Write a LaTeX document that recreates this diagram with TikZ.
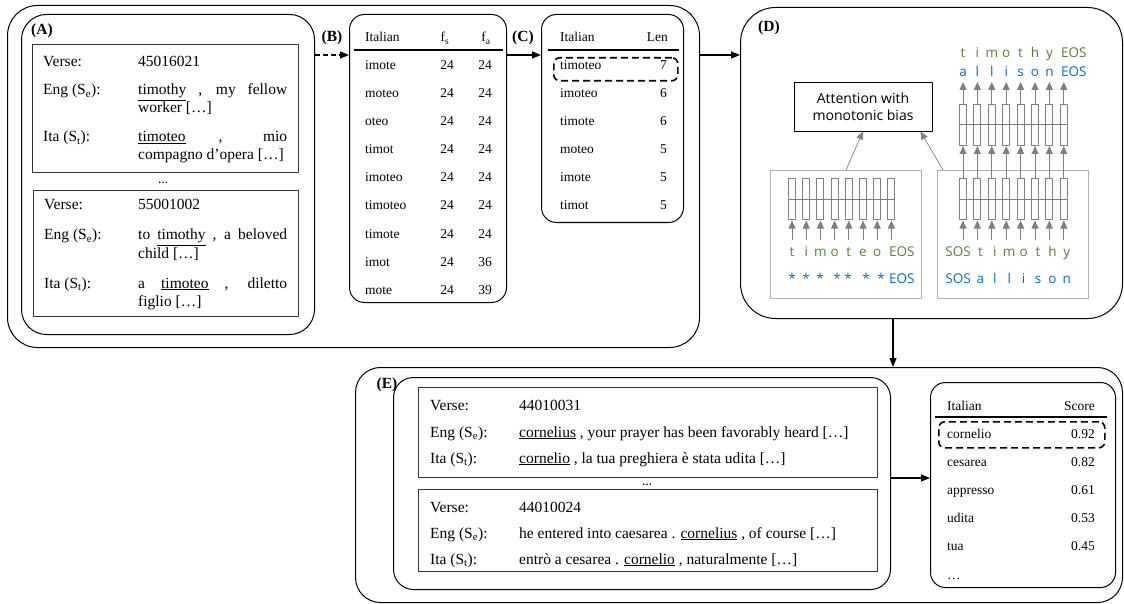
\documentclass[tikz,border=0pt]{standalone}
\usepackage{fontspec}
\setmainfont{Liberation Serif}
\newfontfamily\diagfont{Open Sans}
\usetikzlibrary{positioning,arrows.meta,calc}

\definecolor{encgreen}{HTML}{548235}
\definecolor{encblue}{HTML}{0070C0}
\definecolor{cellgray}{HTML}{7F7F7F}
\definecolor{boxgray}{HTML}{AFAFAF}

\begin{document}
\begin{tikzpicture}[x=1pt, y=-1pt, font=\fontsize{15.5}{18}\selectfont, line join=round]
\tikzstyle{panel}=[draw, line width=1pt, anchor=north west, inner sep=0pt]
\tikzstyle{versebox}=[draw=black!80, line width=0.9pt, anchor=north west, inner sep=0pt]
\tikzstyle{tag}=[font=\fontsize{15.5}{18}\selectfont\bfseries, anchor=base west, inner sep=0pt]
\tikzstyle{txt}=[anchor=base west, inner sep=0pt]
\tikzstyle{para}=[txt, text width=149pt, align=justify]
\tikzstyle{tab}=[font=\fontsize{13.5}{16}\selectfont, inner sep=0pt]
\tikzstyle{flow}=[-{Triangle[length=9pt,width=7pt]}, line width=1.1pt]
\tikzstyle{pick}=[draw, line width=1.6pt, dash pattern=on 7pt off 4pt, rounded corners=6pt, anchor=north west, inner sep=0pt]
\tikzstyle{rnn}=[draw=cellgray, line width=1pt, minimum width=7pt, minimum height=41pt, inner sep=0pt]
\tikzstyle{garrow}=[-{Triangle[length=8pt,width=7pt]}, draw=cellgray, line width=0.9pt]
\tikzstyle{letter}=[font=\diagfont\fontsize{13.5}{16}\selectfont, anchor=base, inner sep=0pt]

\useasboundingbox (0,0) rectangle (1124,604);

% panels
\node[panel, rounded corners=30pt, minimum width=692pt, minimum height=342pt] (outer) at (7,5) {};
\node[panel, rounded corners=25pt, minimum width=293pt, minimum height=320pt] (panelA) at (21,14) {};
\node[panel, rounded corners=15pt, minimum width=157pt, minimum height=288pt] (panelB) at (349,14) {};
\node[panel, rounded corners=15pt, minimum width=142pt, minimum height=208pt] (panelC) at (541,14) {};
\node[panel, rounded corners=35pt, minimum width=382pt, minimum height=311pt] (panelD) at (740,7) {};
\node[panel, rounded corners=25pt, minimum width=767pt, minimum height=235pt] (panelE) at (355,367) {};
\node[panel, rounded corners=20pt, minimum width=497pt, minimum height=212pt] (sent) at (393,377) {};
\node[panel, rounded corners=15pt, minimum width=185pt, minimum height=205pt] (score) at (930,382) {};

\node[tag] at (31,35) {(A)};
\node[tag, anchor=base] at (332,42) {(B)};
\node[tag, anchor=base] at (523,42) {(C)};
\node[tag] at (758,32) {(D)};
\node[tag, anchor=base] at (387,388) {(E)};

% (A) verse pairs
\node[versebox, minimum width=266pt, minimum height=128pt] (verseA1) at (32,44) {};
\node[versebox, minimum width=265pt, minimum height=126pt] (verseA2) at (33,190) {};
\node[font=\bfseries, anchor=base] at (163,184) {…};

\node[txt] at (43,67) {Verse:};
\node[txt] at (138,67) {45016021};
\node[txt] at (43,95) {Eng (S\textsubscript{e}):};
\node[para] at (138,95) {\underline{timothy} , my fellow\linebreak worker […]};
\node[txt] at (43,142) {Ita (S\textsubscript{t}):};
\node[para] at (138,142) {\underline{timoteo} , mio\linebreak compagno d’opera […]};

\node[txt] at (44,210) {Verse:};
\node[txt] at (138,210) {55001002};
\node[txt] at (44,240) {Eng (S\textsubscript{e}):};
\node[para] at (138,240) {to \underline{timothy} , a beloved\linebreak child […]};
\node[txt] at (44,288) {Ita (S\textsubscript{t}):};
\node[para] at (138,288) {a \underline{timoteo} , diletto\linebreak figlio […]};

% (B) substrings with frequencies
\node[tab, anchor=base west] at (365,42) {Italian};
\node[tab, anchor=base] at (445,42) {f\textsubscript{s}};
\node[tab, anchor=base] at (486,42) {f\textsubscript{a}};
\draw[line width=1.2pt] (354,50) -- (503,50);
\foreach \w/\s/\a [count=\k from 0] in {imote/24/24, moteo/24/24, oteo/24/24, timot/24/24, imoteo/24/24, timoteo/24/24, timote/24/24, imot/24/36, mote/24/39} {
  \node[tab, anchor=base west] (subB\k) at (365,70+28*\k) {\w};
  \node[tab, anchor=base] at (447,70+28*\k) {\s};
  \node[tab, anchor=base] at (485,70+28*\k) {\a};
}

% (C) ranked by length
\node[tab, anchor=base west] at (560,42) {Italian};
\node[tab, anchor=base east] at (668,42) {Len};
\draw[line width=1.2pt] (548,50) -- (679,50);
\foreach \w/\n [count=\k from 0] in {timoteo/7, imoteo/6, timote/6, moteo/5, imote/5, timot/5} {
  \node[tab, anchor=base west] (subC\k) at (560,70+28*\k) {\w};
  \node[tab, anchor=base east] at (667,70+28*\k) {\n};
}
\node[pick, minimum width=124pt, minimum height=23pt] (pickC) at (553,57) {};

% (D) transliteration model
\node[draw, line width=0.9pt, minimum width=138pt, minimum height=49pt, align=center, font=\diagfont\fontsize{14}{17}\selectfont] (att) at (863,106.5) {Attention with\\monotonic bias};
\node[draw=boxgray, line width=1pt, anchor=north west, minimum width=151pt, minimum height=128pt, inner sep=0pt] (encL) at (770,170) {};
\node[draw=boxgray, line width=1pt, anchor=north west, minimum width=151pt, minimum height=128pt, inner sep=0pt] (encR) at (937,170) {};

\foreach \i in {1,...,8} {
  \node[rnn] (eL\i) at (792+14.2*\i-14.2,199.5) {};
  \node[rnn] (eR\i) at (963+14.4*\i-14.4,199.5) {};
  \node[rnn] (dR\i) at (963+14.4*\i-14.4,125) {};
  \draw[garrow] ($(eL\i.south)+(0,19)$) -- (eL\i.south);
  \draw[garrow] ($(eR\i.south)+(0,19)$) -- (eR\i.south);
  \draw[garrow] (eR\i.north) -- (dR\i.south);
  \draw[garrow] (dR\i.north) -- ++(0,-22);
}
\draw[cellgray, line width=1pt] (eL1.west) -- (eL8.east);
\draw[cellgray, line width=1pt] (eR1.west) -- (eR8.east);
\draw[cellgray, line width=1pt] (dR1.west) -- (dR8.east);

\draw[garrow, line width=0.7pt] (encL.north) -- (att.south);
\draw[garrow, line width=0.7pt] ($(encR.north west)+(6,0)$) -- ($(att.south east)+(-12,0)$);

\foreach \c [count=\i] in {t,i,m,o,t,e,o}
  \node[letter, text=encgreen] at (792+14.2*\i-14.2,256) {\c};
\node[letter, text=encgreen, anchor=base west] at (889,256) {EOS};
\foreach \x in {792,806,820,837,848,866,881}
  \node[letter, text=encblue] at (\x,283) {*};
\node[letter, text=encblue, anchor=base west] at (889,283) {EOS};

\node[letter, text=encgreen, anchor=base east] at (971,256) {SOS};
\foreach \c [count=\i from 2] in {t,i,m,o,t,h,y}
  \node[letter, text=encgreen] at (966+14.4*\i-14.4,256) {\c};
\node[letter, text=encblue, anchor=base east] at (971,283) {SOS};
\foreach \c [count=\i from 2] in {a,l,l,i,s,o,n}
  \node[letter, text=encblue] at (966+14.4*\i-14.4,283) {\c};

\foreach \c [count=\i] in {t,i,m,o,t,h,y}
  \node[letter, text=encgreen] at (963+14.4*\i-14.4,58) {\c};
\node[letter, text=encgreen, anchor=base west] at (1061,58) {EOS};
\foreach \c [count=\i] in {a,l,l,i,s,o,n}
  \node[letter, text=encblue] at (963+14.4*\i-14.4,77) {\c};
\node[letter, text=encblue, anchor=base west] at (1061,77) {EOS};

% (E) mining new verses
\node[versebox, minimum width=459pt, minimum height=90pt] (verseE1) at (418,387) {};
\node[versebox, minimum width=459pt, minimum height=82pt] (verseE2) at (418,489) {};
\node[font=\bfseries, anchor=base] at (647,485) {…};

\node[txt] at (430,410) {Verse:};
\node[txt] at (519,410) {44010031};
\node[txt] at (430,437) {Eng (S\textsubscript{e}):};
\node[txt] at (519,437) {\underline{cornelius} , your prayer has been favorably heard […]};
\node[txt] at (430,463) {Ita (S\textsubscript{t}):};
\node[txt] at (519,463) {\underline{cornelio} , la tua preghiera è stata udita […]};

\node[txt] at (430,512) {Verse:};
\node[txt] at (519,512) {44010024};
\node[txt] at (430,538) {Eng (S\textsubscript{e}):};
\node[txt] at (519,538) {he entered into caesarea . \underline{cornelius} , of course […]};
\node[txt] at (430,564) {Ita (S\textsubscript{t}):};
\node[txt] at (519,564) {entrò a cesarea . \underline{cornelio} , naturalmente […]};

\node[tab, anchor=base west] at (947,410) {Italian};
\node[tab, anchor=base east] at (1095,410) {Score};
\draw[line width=1.2pt] (935,417) -- (1107,417);
\foreach \w/\p [count=\k from 0] in {cornelio/0.92, cesarea/0.82, appresso/0.61, udita/0.53, tua/0.45} {
  \node[tab, anchor=base west] (cand\k) at (947,438+28*\k) {\w};
  \node[tab, anchor=base east] at (1095,438+28*\k) {\p};
}
\node[tab, anchor=base west] at (947,579) {…};
\node[pick, minimum width=166pt, minimum height=26pt] (pickE) at (938,421) {};

% connectors
\coordinate (lane) at (0,55);
\coordinate (drop) at (893,0);
\coordinate (lane2) at (0,478);
\draw[flow, dash pattern=on 5pt off 3pt] (panelA.east |- lane) -- (panelB.west |- lane);
\draw[flow] (panelB.east |- lane) -- (panelC.west |- lane);
\draw[flow] (outer.east |- lane) -- (panelD.west |- lane);
\draw[flow] (panelD.south -| drop) -- (panelE.north -| drop);
\draw[flow] (sent.east |- lane2) -- (score.west |- lane2);
\end{tikzpicture}
\end{document}
